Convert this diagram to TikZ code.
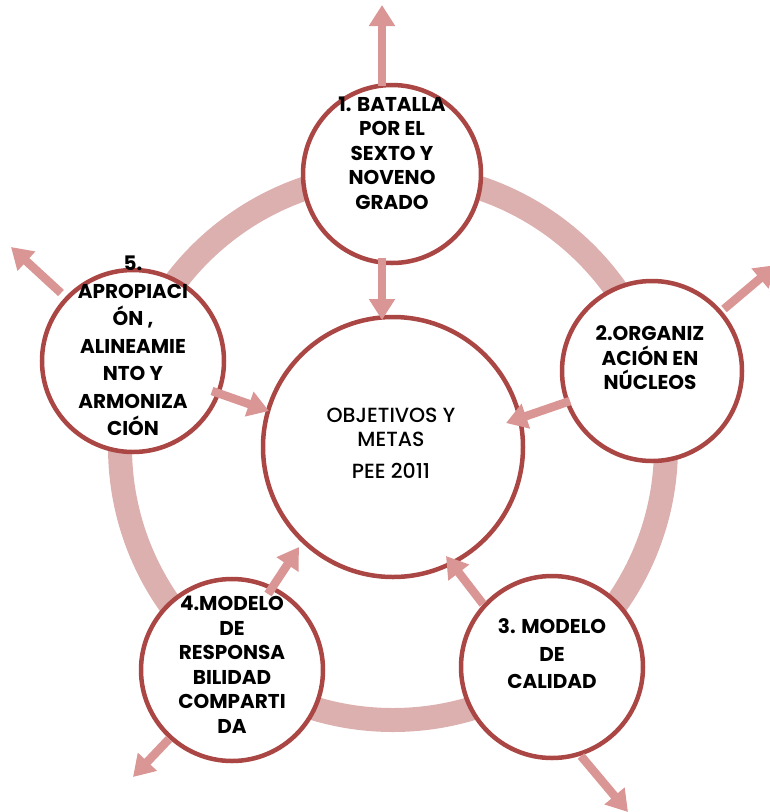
\documentclass[tikz,border=0pt]{standalone}
\usepackage{fontspec}
\setmainfont{Poppins}
\newfontfamily\medfont{Poppins Medium}
\usetikzlibrary{arrows.meta}
\definecolor{ringc}{HTML}{DDB0B0}
\definecolor{arrc}{HTML}{D99694}
\definecolor{edgec}{HTML}{AA4643}
\begin{document}
\begin{tikzpicture}[x=1pt,y=-1pt,
  bubble/.style={circle, draw=edgec, line width=4.5pt, fill=white, minimum size=#1, inner sep=0pt},
  lbl/.style={align=center, font=\fontsize{20}{24.5}\selectfont\bfseries, text=black, inner sep=0pt},
  lblw/.style={align=center, font=\fontsize{20}{27.5}\selectfont\bfseries, text=black, inner sep=0pt},
  arr/.style={draw=arrc, line width=8.5pt, -{Triangle[length=21pt,width=25pt]}}
]
\useasboundingbox (0,0) rectangle (770,812);
\coordinate (o) at (393,447);
\draw[ringc, line width=24pt] (o) circle[radius=273pt];

% outer circles
\node[bubble=178pt] (c1) at (392,174) {};
\node[bubble=180pt] (c2) at (652,371) {};
\node[bubble=182pt] (c3) at (552,667) {};
\node[bubble=182pt] (c4) at (232,670) {};
\node[bubble=182pt] (c5) at (133,361) {};
\node[bubble=260pt] (cc) at (393,447) {};

% arrow end points
\coordinate (a1s) at (382,86);   \coordinate (a1e) at (382,5);
\coordinate (b1s) at (382,258);  \coordinate (b1e) at (382,320);
\coordinate (a2s) at (724,309);  \coordinate (a2e) at (776,265);
\coordinate (b2s) at (570,401);  \coordinate (b2e) at (506,423);
\coordinate (a3s) at (581,756);  \coordinate (a3e) at (628,812);
\coordinate (b3s) at (483,604);  \coordinate (b3e) at (446,556);
\coordinate (a4s) at (169,739);  \coordinate (a4e) at (133,777);
\coordinate (b4s) at (268,594);  \coordinate (b4e) at (299,547);
\coordinate (a5s) at (61,293);   \coordinate (a5e) at (11,247);
\coordinate (b5s) at (212,391);  \coordinate (b5e) at (269,411);

\foreach \k in {1,...,5}{
  \draw[arr] (a\k s) -- (a\k e);
  \draw[arr] (b\k s) -- (b\k e);
}

% labels
\node[lbl] (t1) at (392,153) {1. BATALLA\\POR EL\\SEXTO Y\\NOVENO\\GRADO};
\node[lbl] (t2) at (650,358) {2.ORGANIZ\\ACIÓN EN\\NÚCLEOS};
\node[lblw] (t3) at (552,654) {3. MODELO\\DE\\CALIDAD};
\node[lbl] (t4) at (232,665) {4.MODELO\\DE\\RESPONSA\\BILIDAD\\COMPARTI\\DA};
\node[lblw] (t5) at (133,346) {5.\\APROPIACI\\ÓN ,\\ALINEAMIE\\NTO Y\\ARMONIZA\\CIÓN};
\node[align=center, font=\fontsize{20.5}{24}\medfont, text=black, inner sep=0pt] (tc) at (391,443)
  {OBJETIVOS Y\\METAS\\[8pt]PEE 2011};
\end{tikzpicture}
\end{document}
